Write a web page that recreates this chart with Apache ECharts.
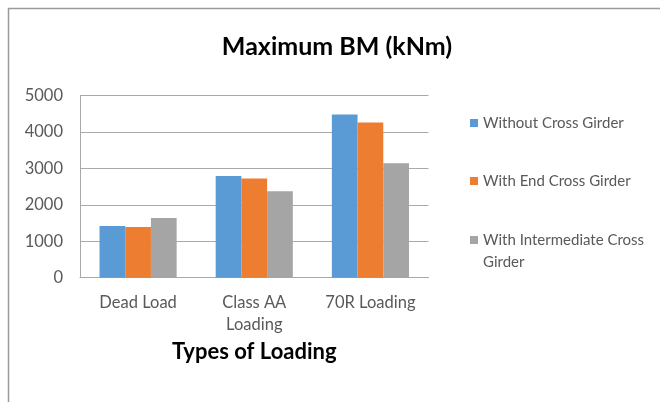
<!DOCTYPE html>
<html>
<head>
<meta charset="utf-8">
<script src="https://cdn.jsdelivr.net/npm/echarts@6/dist/echarts.min.js"></script>
<style>
  html, body { margin: 0; padding: 0; background: #ffffff; }
  #chart { width: 660px; height: 402px; }
</style>
</head>
<body>
<div id="chart"></div>
<script>
// Loading cases on the category axis
const categories = ['Dead Load', 'Class AA\nLoading', '70R Loading'];

// Maximum bending moment (kNm) per girder arrangement
const seriesNames = ['Without Cross Girder', 'With End Cross Girder', 'With Intermediate Cross Girder'];
const withoutCrossGirder = [1420, 2790, 4480];
const withEndCrossGirder = [1390, 2720, 4260];
const withIntermediateCrossGirder = [1640, 2370, 3140];

// Value axis ticks
const yMin = 0;
const yMax = 5000;
const yStep = 1000;

const colors = ['#5b9bd5', '#ed7d31', '#a5a5a5'];
const textColor = '#595959';
const lineColor = '#a9a9a9';
const fontFamily = 'Lato, "Open Sans", sans-serif';

// Legend labels; the long one wraps, with a blank first line so the
// swatch lines up with the first line of text
const legendLabels = {
  'Without Cross Girder': 'Without Cross Girder',
  'With End Cross Girder': 'With End Cross Girder',
  'With Intermediate Cross Girder': '\nWith Intermediate Cross\nGirder'
};

const chart = echarts.init(document.getElementById('chart'));

function legendFor(name, top) {
  return {
    data: [{ name: name }],
    orient: 'vertical',
    left: 470,
    top: top,
    padding: 0,
    icon: 'rect',
    itemWidth: 8,
    itemHeight: 8,
    selectedMode: false,
    formatter: function (n) { return legendLabels[n]; },
    textStyle: {
      color: textColor,
      fontFamily: fontFamily,
      fontSize: 15,
      lineHeight: 22
    }
  };
}

const option = {
  animation: false,
  backgroundColor: '#ffffff',
  color: colors,
  title: {
    text: 'Maximum BM (kNm)',
    left: 337,
    textAlign: 'center',
    top: 34,
    padding: 0,
    textStyle: {
      color: '#000000',
      fontFamily: fontFamily,
      fontWeight: 'bold',
      fontSize: 25
    }
  },
  legend: [
    legendFor(seriesNames[0], 112),
    legendFor(seriesNames[1], 170),
    legendFor(seriesNames[2], 207)
  ],
  grid: {
    left: 80,
    top: 95.5,
    right: 231.5,
    bottom: 124.3,
    containLabel: false
  },
  xAxis: {
    type: 'category',
    data: categories,
    axisLine: { show: true, lineStyle: { color: lineColor, width: 1 } },
    axisTick: { show: false },
    axisLabel: {
      color: textColor,
      fontFamily: fontFamily,
      fontSize: 16.5,
      lineHeight: 22,
      margin: 14,
      interval: 0
    },
    name: 'Types of Loading',
    nameLocation: 'middle',
    nameGap: 63,
    nameTextStyle: {
      color: '#000000',
      fontFamily: fontFamily,
      fontWeight: 'bold',
      fontSize: 22
    }
  },
  yAxis: {
    type: 'value',
    min: yMin,
    max: yMax,
    interval: yStep,
    axisLine: { show: true, lineStyle: { color: lineColor, width: 1 } },
    axisTick: { show: false },
    splitLine: { show: true, lineStyle: { color: lineColor, width: 1 } },
    axisLabel: {
      color: textColor,
      fontFamily: fontFamily,
      fontSize: 16.5,
      margin: 17,
      formatter: function (v) { return String(v); }
    }
  },
  series: [
    { name: seriesNames[0], type: 'bar', data: withoutCrossGirder, barGap: '0%', barCategoryGap: '33.6%' },
    { name: seriesNames[1], type: 'bar', data: withEndCrossGirder, barGap: '0%', barCategoryGap: '33.6%' },
    { name: seriesNames[2], type: 'bar', data: withIntermediateCrossGirder, barGap: '0%', barCategoryGap: '33.6%' }
  ],
  graphic: [
    {
      type: 'rect',
      silent: true,
      shape: { x: 8.5, y: 8.5, width: 700, height: 500 },
      style: { fill: null, stroke: '#9a9a9a', lineWidth: 1.5 }
    }
  ]
};

chart.setOption(option);
</script>
</body>
</html>
